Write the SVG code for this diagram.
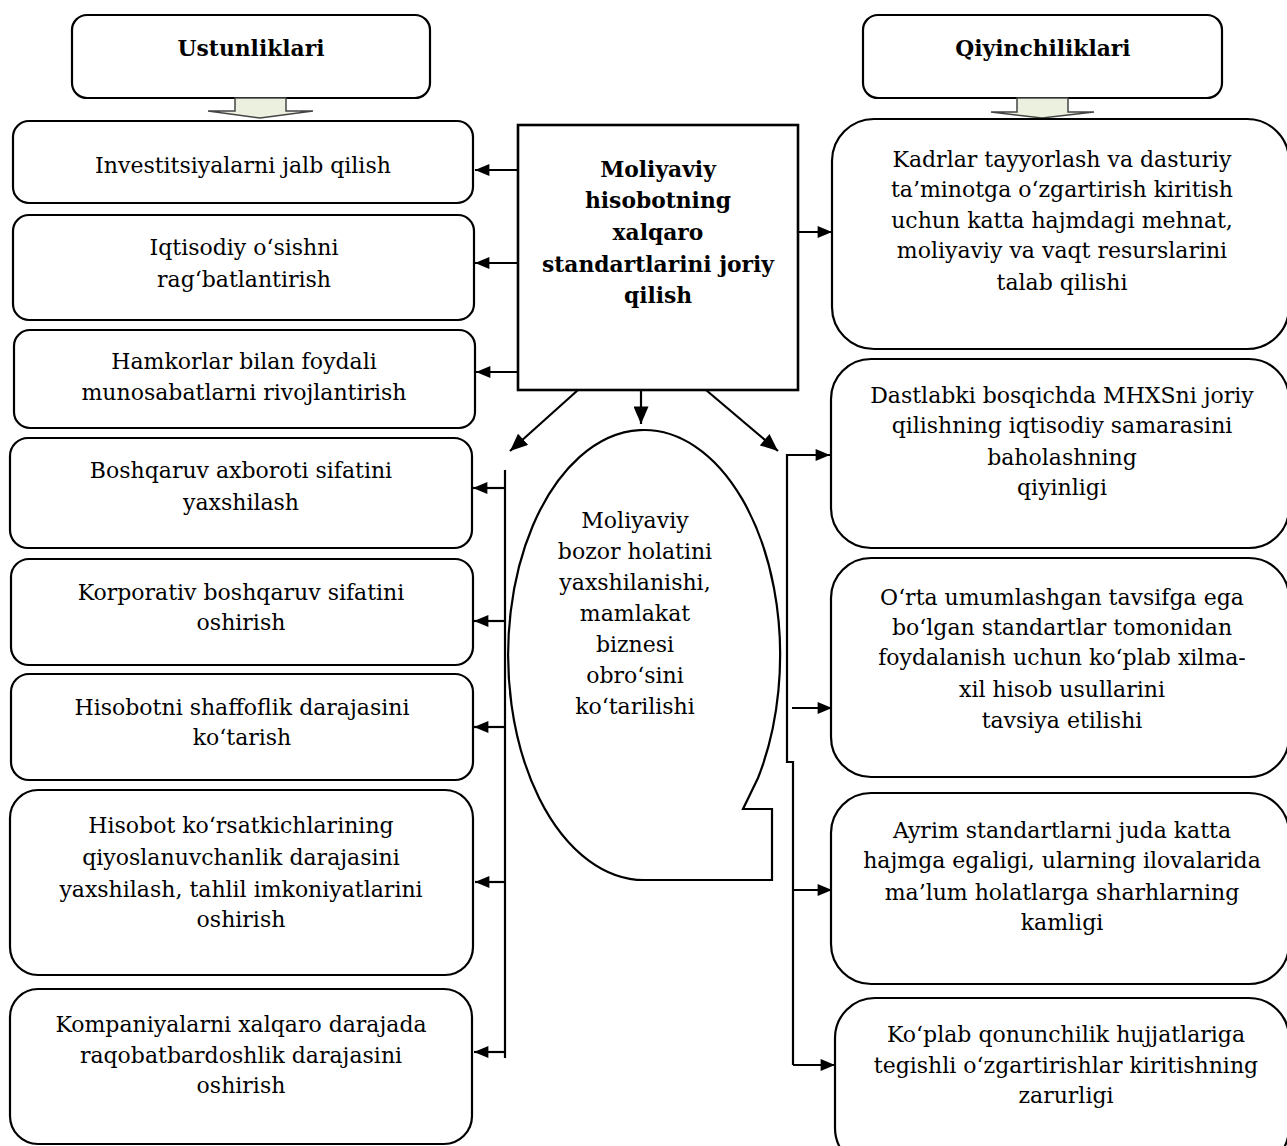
<svg xmlns="http://www.w3.org/2000/svg" width="1287" height="1146" viewBox="0 0 1287 1146">
<defs>
<style>
.box{fill:#fff;stroke:#000;stroke-width:2.2}
.t{font-family:"DejaVu Serif","Liberation Serif",serif;font-size:22px;fill:#000;text-anchor:middle}
.b{font-family:"DejaVu Serif","Liberation Serif",serif;font-size:21.8px;font-weight:bold;fill:#000;text-anchor:middle}
.c{fill:none;stroke:#000;stroke-width:2.2}
.g{fill:#ebf1de;stroke:#444;stroke-width:1.5}
</style>
<marker id="ah" viewBox="0 0 12 10" refX="12" refY="5" markerWidth="15" markerHeight="12" markerUnits="userSpaceOnUse" orient="auto">
<path d="M0,0 L12,5 L0,10 z" fill="#000"/>
</marker>
<marker id="ahL" viewBox="0 0 14 12" refX="14" refY="6" markerWidth="18" markerHeight="15" markerUnits="userSpaceOnUse" orient="auto">
<path d="M0,0 L14,6 L0,12 z" fill="#000"/>
</marker>
</defs>
<rect width="1287" height="1146" fill="#fff"/>

<g id="hdr-left">
<rect class="box" x="72" y="15" width="358" height="83" rx="15"/>
<text class="b" x="251" y="56">Ustunliklari</text>
<path class="g" d="M235,98 L286,98 L286,111 L313,111 L260,118 L208,111 L235,111 z"/>
</g>
<g id="hdr-right">
<rect class="box" x="863" y="15" width="359" height="83" rx="15"/>
<text class="b" x="1043" y="56">Qiyinchiliklari</text>
<path class="g" d="M1017,98 L1068,98 L1068,112 L1094,112 L1042,118 L991,112 L1017,112 z"/>
</g>

<g id="center">
<rect x="518" y="125" width="280" height="265" fill="#fff" stroke="#000" stroke-width="2.6"/>
<text class="b" x="658" y="177">Moliyaviy</text>
<text class="b" x="658" y="208">hisobotning</text>
<text class="b" x="658" y="240">xalqaro</text>
<text class="b" x="658" y="272">standartlarini joriy</text>
<text class="b" x="658" y="303">qilish</text>
</g>

<g id="callout">
<path class="box" d="M758,778 A136,225 0 1 0 644,880 L772,880 L772,809 L743,809 Z"/>
<text class="t" x="635" y="528">Moliyaviy</text>
<text class="t" x="635" y="559">bozor holatini</text>
<text class="t" x="635" y="590">yaxshilanishi,</text>
<text class="t" x="635" y="621">mamlakat</text>
<text class="t" x="635" y="652">biznesi</text>
<text class="t" x="635" y="683">obro‘sini</text>
<text class="t" x="635" y="714">ko‘tarilishi</text>
</g>

<g id="l1">
<rect class="box" x="13" y="121" width="460" height="82" rx="16"/>
<text class="t" x="243" y="173">Investitsiyalarni jalb qilish</text>
</g>
<g id="l2">
<rect class="box" x="13" y="215" width="461" height="105" rx="16"/>
<text class="t" x="244" y="255">Iqtisodiy o‘sishni</text>
<text class="t" x="244" y="287">rag‘batlantirish</text>
</g>
<g id="l3">
<rect class="box" x="14" y="330" width="461" height="98" rx="16"/>
<text class="t" x="244" y="369">Hamkorlar bilan foydali</text>
<text class="t" x="244" y="400">munosabatlarni rivojlantirish</text>
</g>
<g id="l4">
<rect class="box" x="10" y="438" width="462" height="110" rx="18"/>
<text class="t" x="241" y="478">Boshqaruv axboroti sifatini</text>
<text class="t" x="241" y="510">yaxshilash</text>
</g>
<g id="l5">
<rect class="box" x="11" y="559" width="462" height="106" rx="18"/>
<text class="t" x="241" y="600">Korporativ boshqaruv sifatini</text>
<text class="t" x="241" y="630">oshirish</text>
</g>
<g id="l6">
<rect class="box" x="11" y="674" width="462" height="106" rx="18"/>
<text class="t" x="242" y="715">Hisobotni shaffoflik darajasini</text>
<text class="t" x="242" y="745">ko‘tarish</text>
</g>
<g id="l7">
<rect class="box" x="10" y="790" width="463" height="185" rx="28"/>
<text class="t" x="241" y="833">Hisobot ko‘rsatkichlarining</text>
<text class="t" x="241" y="865">qiyoslanuvchanlik darajasini</text>
<text class="t" x="241" y="897">yaxshilash, tahlil imkoniyatlarini</text>
<text class="t" x="241" y="927">oshirish</text>
</g>
<g id="l8">
<rect class="box" x="10" y="989" width="462" height="155" rx="28"/>
<text class="t" x="241" y="1032">Kompaniyalarni xalqaro darajada</text>
<text class="t" x="241" y="1063">raqobatbardoshlik darajasini</text>
<text class="t" x="241" y="1093">oshirish</text>
</g>

<g id="r1">
<rect class="box" x="832" y="119" width="457" height="230" rx="42"/>
<text class="t" x="1062" y="167">Kadrlar tayyorlash va dasturiy</text>
<text class="t" x="1062" y="197">ta’minotga o‘zgartirish kiritish</text>
<text class="t" x="1062" y="228">uchun katta hajmdagi mehnat,</text>
<text class="t" x="1062" y="258">moliyaviy va vaqt resurslarini</text>
<text class="t" x="1062" y="290">talab qilishi</text>
</g>
<g id="r2">
<rect class="box" x="831" y="359" width="458" height="189" rx="40"/>
<text class="t" x="1062" y="403">Dastlabki bosqichda MHXSni joriy</text>
<text class="t" x="1062" y="433">qilishning iqtisodiy samarasini</text>
<text class="t" x="1062" y="465">baholashning</text>
<text class="t" x="1062" y="495">qiyinligi</text>
</g>
<g id="r3">
<rect class="box" x="831" y="558" width="458" height="219" rx="40"/>
<text class="t" x="1062" y="605">O‘rta umumlashgan tavsifga ega</text>
<text class="t" x="1062" y="635">bo‘lgan standartlar tomonidan</text>
<text class="t" x="1062" y="665">foydalanish uchun ko‘plab xilma-</text>
<text class="t" x="1062" y="697">xil hisob usullarini</text>
<text class="t" x="1062" y="728">tavsiya etilishi</text>
</g>
<g id="r4">
<rect class="box" x="831" y="793" width="458" height="191" rx="40"/>
<text class="t" x="1062" y="838">Ayrim standartlarni juda katta</text>
<text class="t" x="1062" y="868">hajmga egaligi, ularning ilovalarida</text>
<text class="t" x="1062" y="900">ma’lum holatlarga sharhlarning</text>
<text class="t" x="1062" y="930">kamligi</text>
</g>
<g id="r5">
<rect class="box" x="835" y="998" width="454" height="170" rx="40"/>
<text class="t" x="1066" y="1042">Ko‘plab qonunchilik hujjatlariga</text>
<text class="t" x="1066" y="1073">tegishli o‘zgartirishlar kiritishning</text>
<text class="t" x="1066" y="1103">zarurligi</text>
</g>

<g id="connectors">
<line class="c" x1="518" y1="170" x2="475" y2="170" marker-end="url(#ah)"/>
<line class="c" x1="518" y1="263" x2="475" y2="263" marker-end="url(#ah)"/>
<line class="c" x1="518" y1="372" x2="476" y2="372" marker-end="url(#ah)"/>
<line class="c" x1="798" y1="232" x2="832" y2="232" marker-end="url(#ah)"/>
<line class="c" x1="578" y1="390" x2="510" y2="451" marker-end="url(#ahL)"/>
<line class="c" x1="641" y1="390" x2="641" y2="424" marker-end="url(#ahL)"/>
<line class="c" x1="706" y1="390" x2="778" y2="451" marker-end="url(#ahL)"/>
<line class="c" x1="505" y1="470" x2="505" y2="1058"/>
<line class="c" x1="504" y1="488" x2="473" y2="488" marker-end="url(#ah)"/>
<line class="c" x1="504" y1="621" x2="474" y2="621" marker-end="url(#ah)"/>
<line class="c" x1="504" y1="727" x2="474" y2="727" marker-end="url(#ah)"/>
<line class="c" x1="504" y1="882" x2="475" y2="882" marker-end="url(#ah)"/>
<line class="c" x1="504" y1="1052" x2="474" y2="1052" marker-end="url(#ah)"/>
<path class="c" d="M828,455 L787,455 L787,762 L793,762 L793,1065"/>
<line class="c" x1="787" y1="455" x2="830" y2="455" marker-end="url(#ah)"/>
<line class="c" x1="792" y1="708" x2="832" y2="708" marker-end="url(#ah)"/>
<line class="c" x1="793" y1="890" x2="832" y2="890" marker-end="url(#ah)"/>
<line class="c" x1="793" y1="1065" x2="835" y2="1065" marker-end="url(#ah)"/>
</g>
</svg>
